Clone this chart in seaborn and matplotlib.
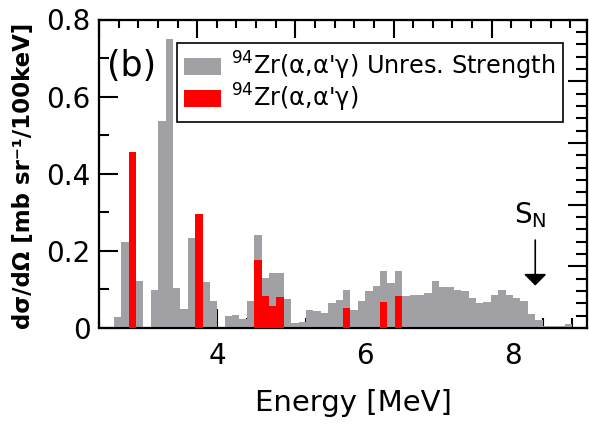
import numpy as np
import pandas as pd
import matplotlib
matplotlib.use("Agg")
import matplotlib.pyplot as plt
import seaborn as sns
from matplotlib.ticker import MultipleLocator, FuncFormatter, NullFormatter
from matplotlib.patches import Patch

# ---------------- data ----------------
bin_start = 2.4      # MeV, first bin lower edge
bin_width = 0.1      # MeV
n_bins = 66
energy_centers = np.round(bin_start + bin_width * (np.arange(n_bins) + 0.5), 3)
bin_edges = [float(v) for v in np.round(bin_start + bin_width * np.arange(n_bins + 1), 3)]

# Unresolved strength (gray), one value per 100 keV bin from 2.4 to 9.0 MeV
gray_strength = [
    0.000, 0.000, 0.028, 0.224, 0.339, 0.123,                          # 2.4-2.9
    0.000, 0.098, 0.536, 0.750, 0.104, 0.048, 0.233, 0.200, 0.118, 0.070,  # 3.0-3.9
    0.000, 0.030, 0.033, 0.024, 0.069, 0.242, 0.130, 0.142, 0.142, 0.075,  # 4.0-4.9
    0.013, 0.016, 0.046, 0.043, 0.039, 0.066, 0.073, 0.099, 0.046, 0.070,  # 5.0-5.9
    0.096, 0.108, 0.147, 0.117, 0.149, 0.083, 0.086, 0.086, 0.092, 0.121,  # 6.0-6.9
    0.106, 0.106, 0.099, 0.095, 0.078, 0.065, 0.068, 0.085, 0.099, 0.085,  # 7.0-7.9
    0.079, 0.070, 0.036, 0.022, 0.006, 0.004, 0.004, 0.010, 0.000, 0.000,  # 8.0-8.9
]

# Resolved (alpha, alpha' gamma) strength (red)
red_energy = [2.85, 3.75, 4.55, 4.65, 4.75, 4.85, 5.75, 6.25, 6.45]
red_strength = [0.457, 0.296, 0.177, 0.082, 0.056, 0.080, 0.053, 0.067, 0.082]

sn_energy = 8.30  # neutron separation energy marker

GRAY = "#a0a0a5"
RED = "#ff0000"

gray_df = pd.DataFrame({"energy": energy_centers, "strength": gray_strength})
red_df = pd.DataFrame({"energy": red_energy, "strength": red_strength})

# ---------------- figure ----------------
sns.set_theme(style="ticks")
plt.rcParams["font.family"] = ["DejaVu Sans"]
plt.rcParams["mathtext.fontset"] = "dejavusans"
plt.rcParams["mathtext.default"] = "regular"
plt.rcParams["text.color"] = "black"
plt.rcParams["axes.labelcolor"] = "black"

fig = plt.figure(figsize=(5.89, 4.25), dpi=100)
ax = fig.add_axes([99 / 589, 1 - 328 / 425, 488 / 589, 308.5 / 425])

sns.histplot(data=gray_df, x="energy", weights="strength", bins=bin_edges,
             element="step", fill=True, color=GRAY, alpha=1, linewidth=0,
             ax=ax, zorder=2)
sns.histplot(data=red_df, x="energy", weights="strength", bins=bin_edges,
             element="step", fill=True, color=RED, alpha=1, linewidth=0,
             ax=ax, zorder=3)

ax.set_xlim(2.4, 9.0)
ax.set_ylim(0, 0.8)

# ticks
ax.xaxis.set_major_locator(MultipleLocator(2))
ax.xaxis.set_minor_locator(MultipleLocator(0.4))
ax.yaxis.set_major_locator(MultipleLocator(0.2))
ax.yaxis.set_minor_locator(MultipleLocator(0.1))
ax.yaxis.set_major_formatter(FuncFormatter(lambda v, p: f"{v:g}"))
ax.tick_params(which="both", direction="in", top=False, right=False,
               width=1.5, colors="black", labelsize=20)
ax.tick_params(which="major", length=14, pad=6)
ax.tick_params(which="minor", length=7)
ax.tick_params(axis="x", which="major", pad=10)
for s in ax.spines.values():
    s.set_linewidth(1.5)
    s.set_color("black")
    s.set_visible(True)

# top and right tick scales (unlabelled)
ax_top = ax.twiny()
ax_top.set_xlim(0, 4.97)
ax_top.xaxis.set_major_locator(MultipleLocator(1))
ax_top.xaxis.set_minor_locator(MultipleLocator(0.2))
ax_top.xaxis.set_major_formatter(NullFormatter())
ax_top.tick_params(which="both", direction="in", top=True, bottom=False,
                   labeltop=False, width=1.5, colors="black")
ax_top.tick_params(which="major", length=13)
ax_top.tick_params(which="minor", length=6)

ax_right = ax.twinx()
ax_right.set_ylim(0, 5)
ax_right.yaxis.set_major_locator(MultipleLocator(1))
ax_right.yaxis.set_minor_locator(MultipleLocator(0.2))
ax_right.yaxis.set_major_formatter(NullFormatter())
ax_right.tick_params(which="both", direction="in", right=True, left=False,
                     labelright=False, width=1.5, colors="black")
ax_right.tick_params(which="major", length=14)
ax_right.tick_params(which="minor", length=8)
for a in (ax_top, ax_right):
    for s in a.spines.values():
        s.set_linewidth(1.5)
        s.set_color("black")

# labels
ax.set_xlabel("Energy [MeV]", fontsize=21, color="black")
ax.xaxis.set_label_coords((353.5 - 99) / 488, (328 - 389) / 308.5)
ax.xaxis.label.set_va("top")
ax.set_ylabel("dσ/dΩ [mb sr⁻¹/100keV]", fontsize=16.5, fontweight="bold",
              color="black")
ax.yaxis.set_label_coords((35 - 99) / 488, (328 - 175.5) / 308.5)
ax.yaxis.label.set_va("bottom")

# panel tag
ax.text((107 - 99) / 488, (328 - 66) / 308.5, "(b)", transform=ax.transAxes,
        fontsize=25, ha="left", va="center", color="black", zorder=6)

# S_N marker
ax.text(sn_energy - 0.07, 0.272, r"S$_\mathregular{N}$", fontsize=20,
        ha="center", va="baseline", color="black", zorder=6)
ax.annotate("", xy=(sn_energy, 0.11), xytext=(sn_energy, 0.228),
            arrowprops=dict(arrowstyle="-|>,head_length=0.35,head_width=0.35",
                            color="black", lw=1.2, mutation_scale=20,
                            shrinkA=0, shrinkB=0),
            zorder=6)

# legend
handles = [
    Patch(facecolor=GRAY, edgecolor="none",
          label=r"$^{94}$Zr(α,α'γ) Unres. Strength"),
    Patch(facecolor=RED, edgecolor="none", label=r"$^{94}$Zr(α,α'γ)"),
]
leg = ax.legend(handles=handles, loc="upper left",
                bbox_to_anchor=((177 - 99) / 488, (328 - 42.7) / 308.5),
                borderaxespad=0, fontsize=17.3, frameon=True, fancybox=False,
                handlelength=1.55, handleheight=0.7, handletextpad=0.4,
                labelspacing=0.0, borderpad=0.3, framealpha=1,
                labelcolor="black")
leg.get_frame().set_edgecolor("black")
leg.get_frame().set_linewidth(1.2)
leg.set_zorder(10)
ax.set_zorder(ax_top.get_zorder() + 2)
ax.patch.set_visible(False)

fig.savefig("out.png", dpi=100)
